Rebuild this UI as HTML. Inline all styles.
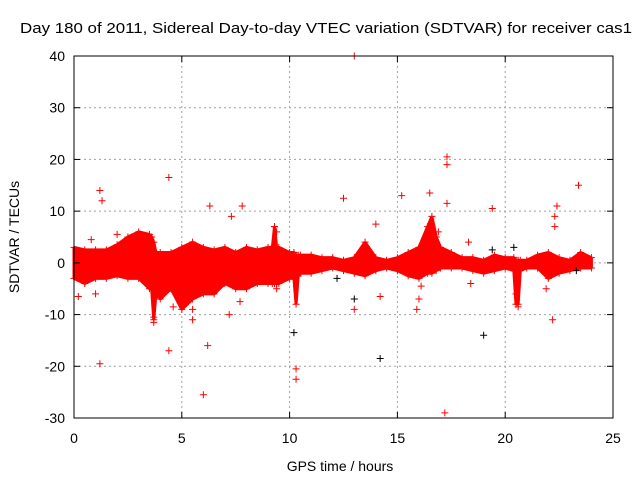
<!DOCTYPE html>
<html><head><meta charset="utf-8"><style>
body{margin:0;background:#fff}
svg{display:block;font-family:"Liberation Sans",sans-serif}
</style></head><body>
<svg id="chart" width="640" height="480">
<rect width="640" height="480" fill="#fff"/>
<text x="20" y="33" font-size="15" textLength="612" lengthAdjust="spacingAndGlyphs">Day 180 of 2011, Sidereal Day-to-day VTEC variation (SDTVAR) for receiver cas1</text>
<g id="grid"></g>
<g id="band"></g>
<g id="pts"></g>
<g id="axes"></g>
<text x="340" y="471" font-size="14" text-anchor="middle">GPS time / hours</text>
<text transform="translate(19,237) rotate(-90)" font-size="14" text-anchor="middle">SDTVAR / TECUs</text>
</svg>
<script>
const xTicks=[0,5,10,15,20,25];
const yTicks=[-30,-20,-10,0,10,20,30,40];
const bandHours=[0,0.5,1,1.5,2,2.5,3,3.5,3.6,3.7,3.8,4,4.5,5,5.5,6,6.5,7,7.5,8,8.5,9,9.2,9.3,9.4,9.5,10,10.2,10.3,10.4,10.5,11,11.5,12,12.5,13,13.5,14,14.5,15,15.5,16,16.4,16.6,16.8,17,17.5,18,18.5,19,19.5,20,20.4,20.5,20.6,20.7,21,21.5,22,22.5,23,23.5,24];
const bandUpper=[3,2.5,2.5,2.5,3.5,5,6,5.5,5,4,2,2,2,3,4,3,2.5,3,2,3,2.5,3,3,7,3,3,2,2,1.5,1.5,1.5,1.5,1,1,0.5,1,4,1,0.5,1,2,3,7,9,5,3,2,1,1,0.5,1.5,1,1,0.5,0.5,0.5,0.5,1.5,2,1,0.5,2,1];
const bandLower=[-3,-4,-3,-3,-2.5,-3,-3,-5,-5,-11,-6,-7,-5,-9,-7,-6,-6,-4,-5,-5,-4,-4,-4,-4,-4,-4,-3,-3,-8,-2.5,-2,-2,-1.5,-1,-1.5,-2,-2.5,-1.5,-1,-1.5,-2.5,-3,-2,-2,-1.5,-1,-1,-1,-1.5,-2,-1.5,-1,-1.5,-8,-8,-1.5,-1,-1,-3,-2,-1.5,-1,-1];
const outHours=[1.2,1.3,1.2,4.4,4.4,6,6.3,6.2,13,12.5,15.2,16.5,17.3,17.3,17.3,17.2,19.4,22.4,22.3,22.2,23.4,10.3,10.3,3.7,3.7,4.6,5.5,7.2,7.7,7.8,7.3,0.2,1,20.6,20.5,15.9,16,18.4,0.8,2,5.5,9.4,13,14.2,16.1,18.3,21.9,14,9.3,9.4,16.9,22.3];
const outValues=[14,12,-19.5,16.5,-17,-25.5,11,-16,40,12.5,13,13.5,20.5,19,11.5,-29,10.5,11,9,-11,15,-20.5,-22.5,-11.5,-10.5,-8.5,-11,-10,-7.5,11,9,-6.5,-6,-8.5,-6,-9,-7,-4,4.5,5.5,-9,-5,-9,-6.5,-4.5,4,-5,7.5,7,6,6,7];
const blackHours=[19,10.2,14.2,13,19.4,23.3,12.2,20.4];
const blackValues=[-14,-13.5,-18.5,-7,2.5,-1.5,-3,3];
const L=74,R=613,T=56,B=418;
const sx=v=>L+(v-0)/25*(R-L), sy=v=>B-(v+30)/70*(B-T);
const NS="http://www.w3.org/2000/svg";
function mk(t,a,p){const e=document.createElementNS(NS,t);for(const k in a)e.setAttribute(k,a[k]);p.appendChild(e);return e;}
const grid=document.getElementById('grid'),axes=document.getElementById('axes'),band=document.getElementById('band'),pts=document.getElementById('pts');
xTicks.forEach(v=>{const x=sx(v);
 if(v>0&&v<25){const g=mk('line',{x1:x,x2:x,y1:T,y2:B,stroke:'#a0a0a0','stroke-dasharray':'2,3'},grid);}
 mk('line',{x1:x,x2:x,y1:B,y2:B-6,stroke:'#000'},axes);mk('line',{x1:x,x2:x,y1:T,y2:T+6,stroke:'#000'},axes);
 const t=mk('text',{x:x,y:B+25,'font-size':14,'text-anchor':'middle'},axes);t.textContent=v;
 });
yTicks.forEach(v=>{const y=sy(v);
 if(v>-30&&v<40){const g=mk('line',{x1:L,x2:R,y1:y,y2:y,stroke:'#a0a0a0','stroke-dasharray':'2,3'},grid);}
 mk('line',{x1:L,x2:L+6,y1:y,y2:y,stroke:'#000'},axes);mk('line',{x1:R,x2:R-6,y1:y,y2:y,stroke:'#000'},axes);
 const t=mk('text',{x:L-9,y:y+5,'font-size':14,'text-anchor':'end'},axes);t.textContent=v;
 });
const fr=mk('rect',{x:L,y:T,width:R-L,height:B-T,fill:'none',stroke:'#000'},axes);

let d='';bandHours.forEach((h,i)=>{d+=(i?'L':'M')+sx(h)+','+sy(bandUpper[i]);});
for(let i=bandHours.length-1;i>=0;i--)d+='L'+sx(bandHours[i])+','+sy(bandLower[i]);
const bp=mk('path',{d:d+'Z',fill:'#ff0000',stroke:'#ff0000','stroke-width':3,'stroke-linejoin':'bevel'},band);

function plus(h,v,c,name){const x=sx(h),y=sy(v);
 const p=mk('path',{d:`M${x-3.5},${y}H${x+3.5}M${x},${y-3.5}V${y+3.5}`,stroke:c,'stroke-width':1},pts);
 }
bandHours.forEach((h,i)=>{plus(h,bandUpper[i],'#ff0000','band-edge-point');plus(h,bandLower[i],'#ff0000','band-edge-point');});
blackHours.forEach((h,i)=>plus(h,blackValues[i],'#000','black-outlier-point'));
outHours.forEach((h,i)=>plus(h,outValues[i],'#ff0000','outlier-point'));
</script>
</body></html>
